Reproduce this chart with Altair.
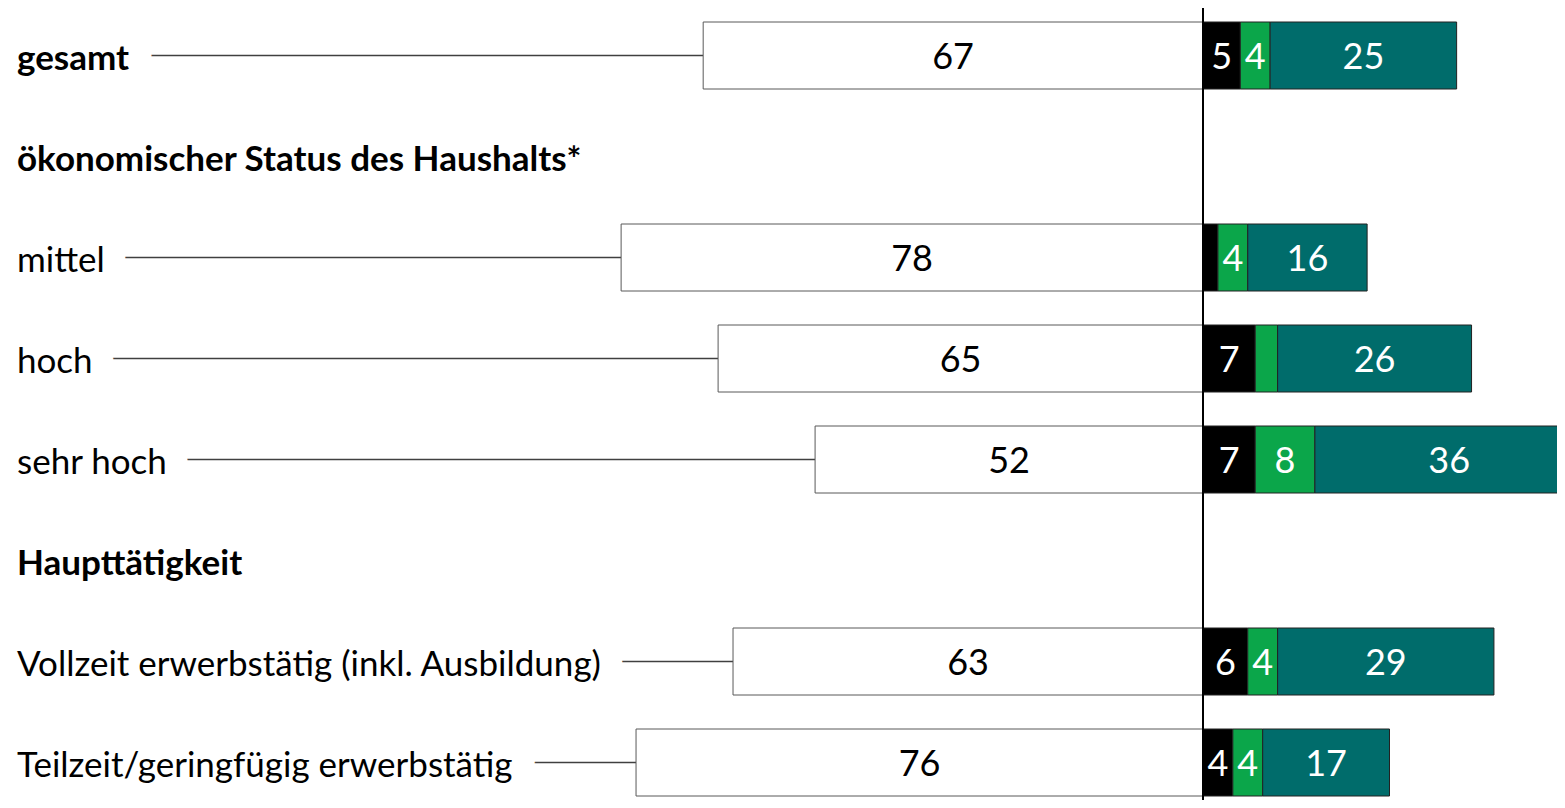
import altair as alt
import pandas as pd

# ---- data ----
categories = [
    "gesamt",
    "ökonomischer Status des Haushalts*",
    "mittel",
    "hoch",
    "sehr hoch",
    "Haupttätigkeit",
    "Vollzeit erwerbstätig (inkl. Ausbildung)",
    "Teilzeit/geringfügig erwerbstätig",
]
is_bold = [True, True, False, False, False, True, False, False]
left_values = [67, None, 78, 65, 52, None, 63, 76]
black_values = [5, None, 2, 7, 7, None, 6, 4]
green_values = [4, None, 4, 3, 8, None, 4, 4]
teal_values = [25, None, 16, 26, 36, None, 29, 17]
series_names = ["s1", "s2", "s3"]
series_colors = ["#000000", "#0ba64a", "#006c6b"]

# ---- layout constants ----
W, H = 1549, 792
PX_PER_UNIT = 7.46
CENTER_PX = 1195
XMIN = -CENTER_PX / PX_PER_UNIT
XMAX = (W - CENTER_PX) / PX_PER_UNIT
ROW0, ROWSTEP = 47.5, 101.0
YMIN = -ROW0 / ROWSTEP
YMAX = (H - ROW0) / ROWSTEP
FONT = "Lato"
LABEL_SIZE = 35
VALUE_SIZE = 36
BAR_SIZE = 67

# ---- tables built from the arrays ----
labels_df = pd.DataFrame({"label": categories, "row": list(range(len(categories))), "bold": is_bold})

left_rows = []
for i, v in enumerate(left_values):
    if v is not None:
        left_rows.append({"row": i, "value": v, "start": -v, "end": 0, "mid": -v / 2, "lx": XMIN})
left_df = pd.DataFrame(left_rows)

right_rows = []
for i in range(len(categories)):
    acc = 0
    for name, vals in zip(series_names, [black_values, green_values, teal_values]):
        v = vals[i]
        if v is None:
            continue
        right_rows.append({"row": i, "series": name, "value": v, "start": acc, "end": acc + v,
                           "mid": acc + v / 2, "show": v >= 4})
        acc += v
right_df = pd.DataFrame(right_rows)

xs = alt.Scale(domain=[XMIN, XMAX], nice=False, zero=False, padding=0)
ys = alt.Scale(domain=[YMIN, YMAX], nice=False, zero=False, reverse=True, padding=0)
X = lambda f: alt.X(f, type="quantitative", scale=xs, axis=None)
Y = alt.Y("row:Q", scale=ys, axis=None)

leaders = alt.Chart(left_df).mark_rule(color="#404040", strokeWidth=1.3).encode(
    x=X("lx"), x2="start:Q", y=Y
)

def label_layer(bold, halo):
    kw = dict(align="left", baseline="middle", font=FONT, fontSize=LABEL_SIZE, dy=3,
              fontWeight="bold" if bold else "normal")
    if halo:
        kw.update(fill="white", stroke="white", strokeWidth=46, strokeJoin="round")
    else:
        kw.update(color="black")
    return alt.Chart(labels_df).transform_filter(
        alt.datum.bold == bold
    ).mark_text(**kw).encode(x=alt.value(9), y=Y, text="label:N")

left_bars = alt.Chart(left_df).mark_bar(fill="white", stroke="#595959", strokeWidth=1, size=BAR_SIZE).encode(
    x=X("start"), x2="end:Q", y=Y
)
left_text = alt.Chart(left_df).mark_text(font=FONT, fontSize=VALUE_SIZE, color="black", baseline="middle", dy=2).encode(
    x=X("mid"), y=Y, text="value:Q"
)
right_bars = alt.Chart(right_df).mark_bar(stroke="#222222", strokeWidth=1, size=BAR_SIZE, clip=True).encode(
    x=X("start"), x2="end:Q", y=Y,
    color=alt.Color("series:N", scale=alt.Scale(domain=series_names, range=series_colors), legend=None),
)
right_text = alt.Chart(right_df).transform_filter(alt.datum.show).mark_text(
    font=FONT, fontSize=VALUE_SIZE, color="white", baseline="middle", clip=True, dy=2
).encode(x=X("mid"), y=Y, text="value:Q")

axis_line = alt.Chart(labels_df).mark_rule(color="black", strokeWidth=2).encode(
    x=alt.datum(0, scale=xs), y=alt.value(-3), y2=alt.value(H)
)

chart = alt.layer(
    leaders,
    label_layer(True, True), label_layer(False, True),
    label_layer(True, False), label_layer(False, False),
    left_bars, left_text, right_bars, right_text, axis_line,
).properties(
    width=W, height=H, padding=0, autosize=alt.AutoSizeParams(type="none")
).configure_view(stroke=None)

chart.save("out.html", embed_options={"renderer": "svg", "actions": False})
